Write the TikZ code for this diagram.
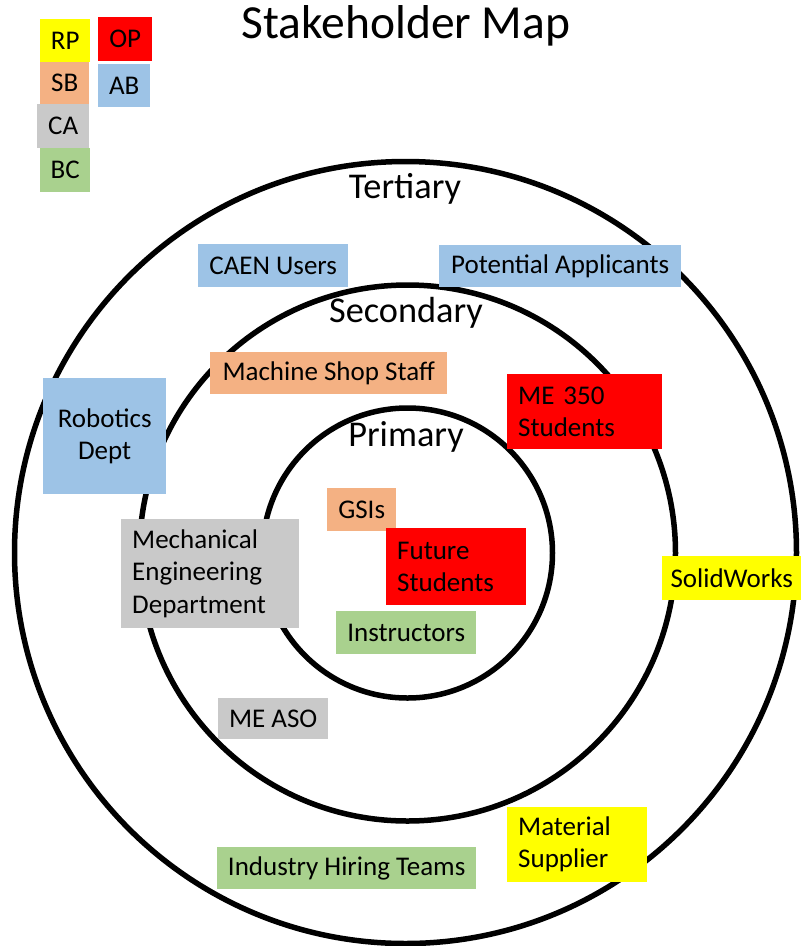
\documentclass[tikz,border=0pt]{standalone}
\usepackage{fontspec}
\setmainfont{Carlito}
\definecolor{cyel}{HTML}{FFFF00}
\definecolor{cred}{HTML}{FF0000}
\definecolor{corg}{HTML}{F4B183}
\definecolor{cblu}{HTML}{9DC3E6}
\definecolor{cgry}{HTML}{C9C9C9}
\definecolor{cgrn}{HTML}{A9D18E}
\tikzset{
  ring/.style={draw=black, line width=5.5pt},
  sbox/.style={rectangle, inner sep=0pt, anchor=north west, font=\fontsize{27}{32}\selectfont},
  lbox/.style={sbox, align=left, inner xsep=11pt},
  cbox/.style={sbox, align=center},
  tier/.style={anchor=base, inner sep=0pt, font=\fontsize{36.3}{42}\selectfont},
  ttl/.style={anchor=base, inner sep=0pt, font=\fontsize{47.5}{54}\selectfont}
}
\begin{document}
\begin{tikzpicture}[x=1pt,y=-1pt]
\useasboundingbox (0,0) rectangle (801,946);
% rings
\draw[ring] (405.5,552.5) circle (391);
\draw[ring] (407.5,553) circle (268);
\draw[ring] (407.5,553) circle (145);
% title and tier labels
\node[ttl] (title) at (406,38) {Stakeholder Map};
\node[tier] (tert) at (405,198) {Tertiary};
\node[tier] (sec) at (406,322) {Secondary};
\node[tier] (prim) at (406,446) {Primary};
% legend
\node[sbox, fill=cyel, minimum width=50pt, minimum height=43pt] (rp) at (40,19) {RP};
\node[sbox, fill=cred, minimum width=54pt, minimum height=44pt] (op) at (98,17) {OP};
\node[sbox, fill=corg, minimum width=49pt, minimum height=42pt] (sb) at (40,62) {SB};
\node[sbox, fill=cblu, minimum width=52pt, minimum height=43pt] (ab) at (98,64) {AB};
\node[sbox, fill=cgry, minimum width=52pt, minimum height=44pt] (ca) at (37,104) {CA};
\node[sbox, fill=cgrn, minimum width=50pt, minimum height=44pt] (bc) at (40,148) {BC};
% tertiary
\node[sbox, fill=cblu, minimum width=150pt, minimum height=43pt] (caen) at (198,244) {CAEN Users};
\node[sbox, fill=cblu, minimum width=242pt, minimum height=42pt] (pot) at (439,245) {Potential Applicants};
\node[cbox, fill=cblu, minimum width=123pt, minimum height=116pt, yshift=-2pt] (rob) at (43,376) {Robotics\\Dept};
\node[sbox, fill=cyel, minimum width=139pt, minimum height=44pt] (solid) at (662,556) {SolidWorks};
\node[lbox, fill=cyel, minimum width=140pt, minimum height=75pt, text width=118pt] (mat) at (507,807) {Material\\Supplier};
\node[sbox, fill=cgrn, minimum width=259pt, minimum height=42pt] (ind) at (217,847) {Industry Hiring Teams};
% secondary
\node[sbox, fill=corg, minimum width=237pt, minimum height=42pt] (mss) at (210,352) {Machine Shop Staff};
\node[lbox, fill=cred, minimum width=155pt, minimum height=75pt, text width=133pt] (me350) at (507,374) {ME 350\\Students};
\node[lbox, fill=cgry, minimum width=178pt, minimum height=109pt, text width=156pt, font=\fontsize{27}{32.5}\selectfont] (med) at (121,519) {Mechanical\\Engineering\\Department};
\node[sbox, fill=cgry, minimum width=110pt, minimum height=41pt] (aso) at (218,698) {ME ASO};
% primary
\node[sbox, fill=corg, minimum width=69pt, minimum height=43pt] (gsi) at (327,488) {GSIs};
\node[lbox, fill=cred, minimum width=140pt, minimum height=77pt, text width=118pt] (fut) at (386,528) {Future\\Students};
\node[sbox, fill=cgrn, minimum width=140pt, minimum height=43pt] (ins) at (336,611) {Instructors};
\end{tikzpicture}
\end{document}
